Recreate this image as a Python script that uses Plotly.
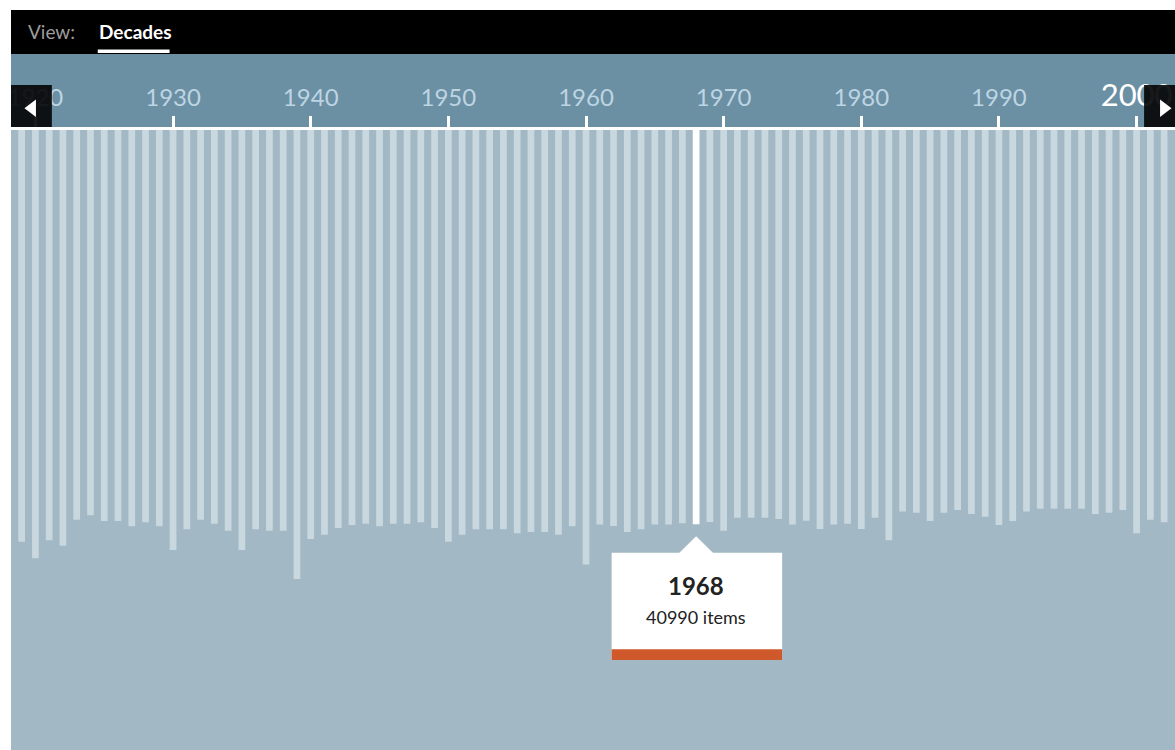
import plotly.graph_objects as go

# ---------------- data ----------------
years = list(range(1919, 2003))
counts = [
    42800,                                                          # 1919
    44520, 42650, 43210, 40520, 40060, 40650, 40650, 41200, 40790, 41200,  # 1920s
    43660, 41510, 40520, 40930, 41660, 43660, 41510, 41660, 41660, 46660,  # 1930s
    42520, 42070, 41380, 41070, 40930, 41200, 40930, 40930, 40790, 41380,  # 1940s
    42800, 42070, 41510, 41510, 41510, 41930, 41790, 41790, 42070, 41200,  # 1950s
    45160, 41000, 41170, 41790, 41510, 41000, 41000, 40890, 40990, 40760,  # 1960s
    41660, 40310, 40310, 40310, 40450, 41000, 40620, 41480, 41000, 40930,  # 1970s
    41480, 40310, 42650, 39650, 39790, 40650, 39790, 39510, 39930, 40210,  # 1980s
    41070, 40650, 39650, 39380, 39380, 39380, 39380, 39930, 39790, 39510,  # 1990s
    41930, 40520, 40790,                                            # 2000s
]
decade_ticks = [1920, 1930, 1940, 1950, 1960, 1970, 1980, 1990, 2000]
decade_labels = ["1920", "1930", "1940", "1950", "1960", "1970", "1980", "1990", "2000"]
current_decade = 2000
selected_year = 1968
view_label = "View:"
view_mode = "Decades"
item_word = "items"

# ---------------- style ----------------
W, H = 1175, 750
BG_PLOT = "#a2b8c5"
BAR = "#c9d7de"
BAND = "#6b8fa3"
LABEL = "#bdd5e3"
ORANGE = "#d0592b"
FONT = "Lato"

def px(x):  # page x -> paper fraction
    return x / W

def py(y):  # page y -> paper fraction
    return 1 - y / H

sel_val = counts[years.index(selected_year)]
bar_colors = ["#ffffff" if y == selected_year else BAR for y in years]

ticktext = []
for v, t in zip(decade_ticks, decade_labels):
    if v == current_decade:
        ticktext.append('<span style="font-size:31px;color:#ffffff">%s</span>' % t)
    else:
        ticktext.append(t)

fig = go.Figure(
    go.Bar(
        x=years, y=counts, width=0.49,
        marker=dict(color=bar_colors, line=dict(width=0)),
        hoverinfo="skip",
    )
)

x0_year = 1920 - 24.5 / 13.8
x1_year = x0_year + 1167 / 13.8
k = sel_val / (524.3 - 129)
y_max = (750 - 129) * k

fig.update_layout(
    width=W, height=H,
    margin=dict(l=0, r=0, t=0, b=0),
    paper_bgcolor="#ffffff",
    plot_bgcolor=BG_PLOT,
    showlegend=False,
    hovermode=False,
    xaxis=dict(
        domain=[px(8), 1], range=[x0_year, x1_year], side="top",
        showgrid=False, zeroline=False, showline=False,
        tickmode="array", tickvals=decade_ticks, ticktext=ticktext,
        ticks="outside", ticklen=12, tickwidth=3, tickcolor="#ffffff",
        tickfont=dict(family=FONT, size=24, color=LABEL),
        fixedrange=True,
    ),
    yaxis=dict(
        domain=[0, py(129)], range=[y_max, 0],
        showgrid=False, zeroline=False, showline=False,
        showticklabels=False, ticks="", fixedrange=True,
    ),
)

shapes = [
    # top black bar
    dict(type="rect", xref="paper", yref="paper", x0=px(8), x1=1, y0=py(54), y1=py(10),
         fillcolor="#000000", line=dict(width=0), layer="below"),
    # steel band
    dict(type="rect", xref="paper", yref="paper", x0=px(8), x1=1, y0=py(128), y1=py(54),
         fillcolor=BAND, line=dict(width=0), layer="below"),
    # tab underline
    dict(type="rect", xref="paper", yref="paper", x0=px(95), x1=px(167), y0=py(53), y1=py(49.5),
         fillcolor="#ffffff", line=dict(width=0), layer="above"),
    # axis line
    dict(type="rect", xref="paper", yref="paper", x0=px(8), x1=1, y0=py(130), y1=py(127),
         fillcolor="#ffffff", line=dict(width=0), layer="above"),
    # left arrow box
    dict(type="rect", xref="paper", yref="paper", x0=px(8), x1=px(49), y0=py(127), y1=py(85),
         fillcolor="rgba(6,6,8,0.92)", line=dict(width=0), layer="above"),
    dict(type="path", xref="paper", yref="paper",
         path="M %f,%f L %f,%f L %f,%f Z" % (px(33), py(99.5), px(33), py(117), px(21.5), py(108.2)),
         fillcolor="#ffffff", line=dict(width=0), layer="above"),
    # right arrow box
    dict(type="rect", xref="paper", yref="paper", x0=px(1144), x1=1, y0=py(127), y1=py(85),
         fillcolor="rgba(6,6,8,0.92)", line=dict(width=0), layer="above"),
    dict(type="path", xref="paper", yref="paper",
         path="M %f,%f L %f,%f L %f,%f Z" % (px(1160), py(99.5), px(1160), py(117), px(1171.5), py(108.2)),
         fillcolor="#ffffff", line=dict(width=0), layer="above"),
    # white page margin on the left (clips the partly hidden first label)
    dict(type="rect", xref="paper", yref="paper", x0=0, x1=px(8), y0=0, y1=1,
         fillcolor="#ffffff", line=dict(width=0), layer="above"),
    # tooltip box
    dict(type="rect", xref="x", yref="y", xsizemode="pixel", ysizemode="pixel",
         xanchor=selected_year, yanchor=sel_val, x0=-84.5, x1=86, y0=-135.7, y1=-28.4,
         fillcolor="#ffffff", line=dict(width=0), layer="above"),
    dict(type="path", xref="x", yref="y", xsizemode="pixel", ysizemode="pixel",
         xanchor=selected_year, yanchor=sel_val,
         path="M -17,-28.6 L 0,-12 L 17,-28.6 Z",
         fillcolor="#ffffff", line=dict(width=0), layer="above"),
    dict(type="rect", xref="x", yref="y", xsizemode="pixel", ysizemode="pixel",
         xanchor=selected_year, yanchor=sel_val, x0=-84.5, x1=86, y0=-135.7, y1=-125,
         fillcolor=ORANGE, line=dict(width=0), layer="above"),
]

annotations = [
    dict(text=view_label, xref="paper", yref="paper", x=px(23), y=py(32), xanchor="left",
         yanchor="middle", showarrow=False, font=dict(family=FONT, size=19, color="#9c9c9c")),
    dict(text="<b>%s</b>" % view_mode, xref="paper", yref="paper", x=px(94.5), y=py(32),
         xanchor="left", yanchor="middle", showarrow=False,
         font=dict(family=FONT, size=19, color="#ffffff")),
    dict(text="<b>%d</b>" % selected_year, xref="x", yref="y", x=selected_year, y=sel_val,
         yshift=-61, xanchor="center", yanchor="middle", showarrow=False,
         font=dict(family=FONT, size=24, color="#222222")),
    dict(text="%d %s" % (sel_val, item_word), xref="x", yref="y", x=selected_year, y=sel_val,
         yshift=-93, xanchor="center", yanchor="middle", showarrow=False,
         font=dict(family=FONT, size=18, color="#222222")),
]

fig.update_layout(shapes=shapes, annotations=annotations)

# the figure draws its own page margins, so drop the browser's default body margin
page_setup = (
    "document.documentElement.style.overflow='hidden';"
    "document.body.style.margin='0';"
    "document.body.style.overflow='hidden';"
)
fig.write_html("out.html", post_script=page_setup, config={"displayModeBar": False})
